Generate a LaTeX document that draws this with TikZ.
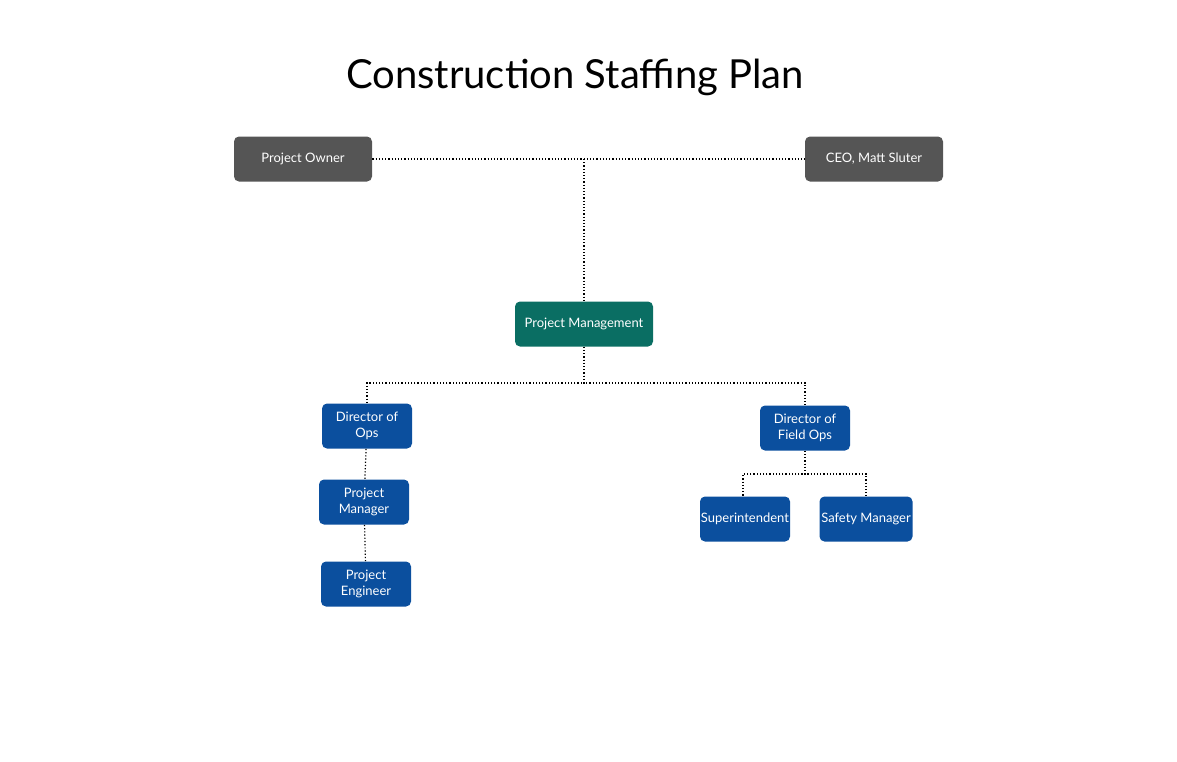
\documentclass[tikz,border=0pt]{standalone}
\usepackage{fontspec}
\setmainfont{Lato}
\usetikzlibrary{positioning}
\definecolor{mygray}{RGB}{85,85,85}
\definecolor{myteal}{RGB}{10,110,99}
\definecolor{myblue}{RGB}{11,79,158}
\tikzset{every picture/.style={line width=0.75pt}}
\tikzset{
  role/.style={rounded corners=5pt,text=white,font=\fontsize{13}{16}\selectfont,align=center,inner sep=0pt},
  boss/.style={role,fill=mygray,minimum width=138pt,minimum height=45pt},
  lead/.style={role,fill=myteal,minimum width=138pt,minimum height=45pt},
  staff/.style={role,fill=myblue,minimum width=90pt,minimum height=45pt},
  link/.style={dotted,line width=1.2pt}
}
\begin{document}
\begin{tikzpicture}[x=1pt,y=-1pt]
\useasboundingbox (0,0) rectangle (1177,761);

% Title
\node (title) at (575,77) {\fontsize{40}{48}\selectfont Construction Staffing Plan};

% Top level
\node [boss] (owner) at (303,159) {Project Owner};
\node [boss] (ceo) at (874,159) {CEO, Matt Sluter};
\node [lead] (pm) at (584,324) {Project Management};

% Branches
\node [staff] (dops) at (367,426) {Director of\\Ops};
\node [staff] (dfield) at (805,428) {Director of\\Field Ops};
\node [staff] (pmgr) at (364,502) {Project\\Manager};
\node [staff] (peng) at (366,584) {Project\\Engineer};
\node [staff] (super) at (745,519) {Superintendent};
\node [staff,minimum width=93pt] (safety) at (866,519) {Safety Manager};

% Connectors
\coordinate (top) at (584,159);
\draw [link] (owner) -- (ceo);
\draw [link] (top) -- (pm);
\draw [link] (pm.south) |- (367,383) -- (dops.north);
\draw [link] (pm.south) |- (805,383) -- (dfield.north);
\draw [link] (dfield.south) |- (743,474) -- (super.north -| 743,0);
\draw [link] (dfield.south) |- (866,474) -- (safety.north);
\draw [link] (dops) -- (pmgr);
\draw [link] (pmgr) -- (peng);
\end{tikzpicture}
\end{document}
